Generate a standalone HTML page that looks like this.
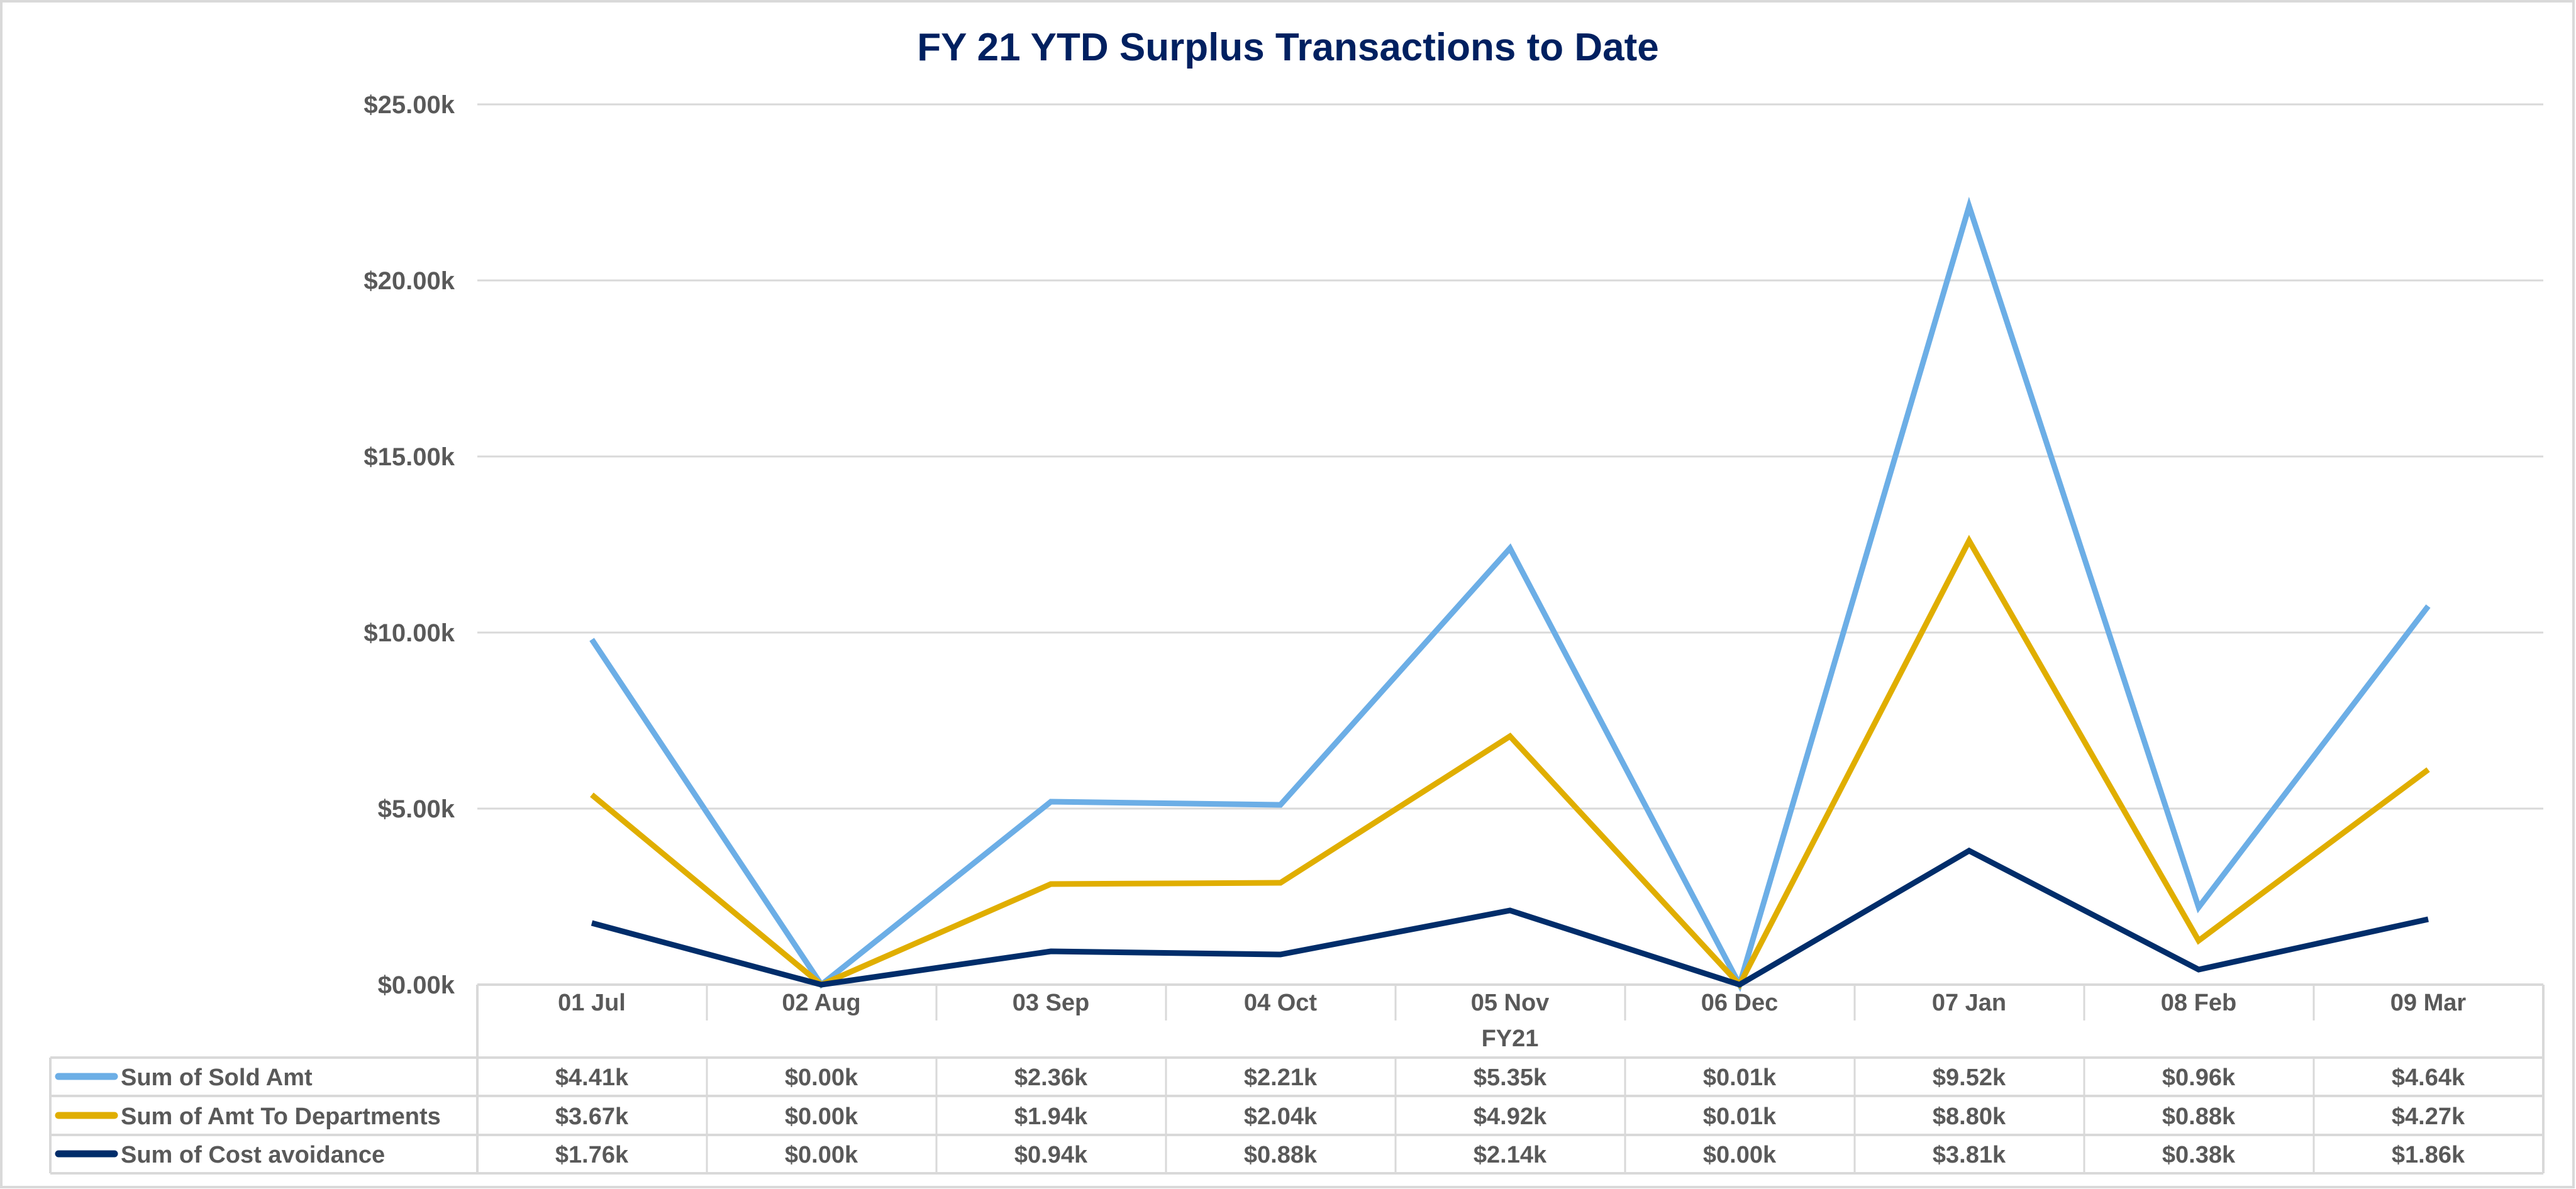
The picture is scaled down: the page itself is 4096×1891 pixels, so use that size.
<!DOCTYPE html>
<html><head><meta charset="utf-8"><style>
html,body{margin:0;padding:0;background:#fff}
svg{display:block}
text{font-family:"Liberation Sans",Arial,sans-serif;font-weight:bold;fill:#595959}
</style></head><body>
<svg width="4096" height="1891" viewBox="0 0 4096 1891">
<rect x="2" y="2" width="4090" height="1886" fill="#fff" stroke="#d9d9d9" stroke-width="4"/>
<text x="2048" y="96" text-anchor="middle" font-size="62" style="fill:#002060">FY 21 YTD Surplus Transactions to Date</text>
<g stroke="#d9d9d9" stroke-width="3">
<line x1="759" y1="166" x2="4044" y2="166"/>
<line x1="759" y1="446" x2="4044" y2="446"/>
<line x1="759" y1="726" x2="4044" y2="726"/>
<line x1="759" y1="1006" x2="4044" y2="1006"/>
<line x1="759" y1="1286" x2="4044" y2="1286"/>
</g>
<g font-size="40" text-anchor="end">
<text x="723" y="180">$25.00k</text>
<text x="723" y="460">$20.00k</text>
<text x="723" y="740">$15.00k</text>
<text x="723" y="1020">$10.00k</text>
<text x="723" y="1300">$5.00k</text>
<text x="723" y="1580">$0.00k</text>
</g>
<!-- table -->
<g stroke="#d9d9d9" stroke-width="4" fill="none">
<line x1="759" y1="1566" x2="4044" y2="1566"/>
<line x1="80" y1="1682" x2="4044" y2="1682"/>
<line x1="80" y1="1743" x2="4044" y2="1743"/>
<line x1="80" y1="1805" x2="4044" y2="1805"/>
<line x1="80" y1="1866" x2="4044" y2="1866"/>
<line x1="80" y1="1682" x2="80" y2="1866"/>
<line x1="4044" y1="1566" x2="4044" y2="1866"/>
<line x1="759" y1="1566" x2="759" y2="1866"/>
</g>
<g stroke="#d9d9d9" stroke-width="3">
<line x1="1124" y1="1566" x2="1124" y2="1623"/><line x1="1124" y1="1682" x2="1124" y2="1866"/>
<line x1="1489" y1="1566" x2="1489" y2="1623"/><line x1="1489" y1="1682" x2="1489" y2="1866"/>
<line x1="1854" y1="1566" x2="1854" y2="1623"/><line x1="1854" y1="1682" x2="1854" y2="1866"/>
<line x1="2219" y1="1566" x2="2219" y2="1623"/><line x1="2219" y1="1682" x2="2219" y2="1866"/>
<line x1="2584" y1="1566" x2="2584" y2="1623"/><line x1="2584" y1="1682" x2="2584" y2="1866"/>
<line x1="2949" y1="1566" x2="2949" y2="1623"/><line x1="2949" y1="1682" x2="2949" y2="1866"/>
<line x1="3314" y1="1566" x2="3314" y2="1623"/><line x1="3314" y1="1682" x2="3314" y2="1866"/>
<line x1="3679" y1="1566" x2="3679" y2="1623"/><line x1="3679" y1="1682" x2="3679" y2="1866"/>
</g>
<g font-size="38" text-anchor="middle">
<text x="941" y="1607">01 Jul</text><text x="1306" y="1607">02 Aug</text><text x="1671" y="1607">03 Sep</text>
<text x="2036" y="1607">04 Oct</text><text x="2401" y="1607">05 Nov</text><text x="2766" y="1607">06 Dec</text>
<text x="3131" y="1607">07 Jan</text><text x="3496" y="1607">08 Feb</text><text x="3861" y="1607">09 Mar</text>
<text x="2401" y="1664">FY21</text>
<text x="941" y="1726">$4.41k</text><text x="1306" y="1726">$0.00k</text><text x="1671" y="1726">$2.36k</text>
<text x="2036" y="1726">$2.21k</text><text x="2401" y="1726">$5.35k</text><text x="2766" y="1726">$0.01k</text>
<text x="3131" y="1726">$9.52k</text><text x="3496" y="1726">$0.96k</text><text x="3861" y="1726">$4.64k</text>
<text x="941" y="1788">$3.67k</text><text x="1306" y="1788">$0.00k</text><text x="1671" y="1788">$1.94k</text>
<text x="2036" y="1788">$2.04k</text><text x="2401" y="1788">$4.92k</text><text x="2766" y="1788">$0.01k</text>
<text x="3131" y="1788">$8.80k</text><text x="3496" y="1788">$0.88k</text><text x="3861" y="1788">$4.27k</text>
<text x="941" y="1849">$1.76k</text><text x="1306" y="1849">$0.00k</text><text x="1671" y="1849">$0.94k</text>
<text x="2036" y="1849">$0.88k</text><text x="2401" y="1849">$2.14k</text><text x="2766" y="1849">$0.00k</text>
<text x="3131" y="1849">$3.81k</text><text x="3496" y="1849">$0.38k</text><text x="3861" y="1849">$1.86k</text>
</g>
<g stroke-width="11" stroke-linecap="round">
<line x1="93" y1="1712" x2="182" y2="1712" stroke="#6CAEE6"/>
<line x1="93" y1="1774" x2="182" y2="1774" stroke="#E0AE00"/>
<line x1="93" y1="1835" x2="182" y2="1835" stroke="#002D6A"/>
</g>
<g font-size="38">
<text x="192" y="1726">Sum of Sold Amt</text>
<text x="192" y="1788">Sum of Amt To Departments</text>
<text x="192" y="1849">Sum of Cost avoidance</text>
</g>
<!-- series; y = 1566 - v*56 -->
<g fill="none" stroke-width="9" stroke-linejoin="miter">
<polyline stroke="#6CAEE6" points="941,1017 1306,1566 1671,1275 2036,1280 2401,872 2766,1566 3131,328 3496,1443 3861,964"/>
<polyline stroke="#E0AE00" points="941,1264 1306,1566 1671,1406 2036,1404 2401,1171 2766,1566 3131,860 3496,1496 3861,1224"/>
<polyline stroke="#002D6A" points="941,1468 1306,1566 1671,1513 2036,1518 2401,1448 2766,1566 3131,1353 3496,1542 3861,1462"/>
</g>
</svg>
</body></html>
